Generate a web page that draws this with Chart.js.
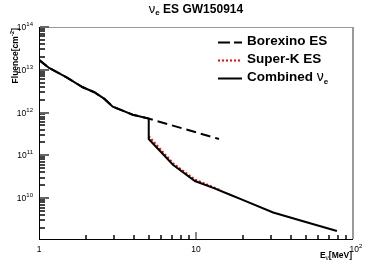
<!DOCTYPE html>
<html>
<head>
<meta charset="utf-8">
<script src="https://cdn.jsdelivr.net/npm/chart.js@4/dist/chart.umd.min.js"></script>
<style>
  body { margin: 0; background: #fff; }
  canvas { display: block; }
</style>
</head>
<body>
<canvas id="fluence_chart" width="392" height="267"></canvas>
<script>
// energies in MeV, fluences in cm^-2
var borexinoE = [1, 1.16, 1.49, 1.9, 2.25, 2.61, 2.95, 3.41, 3.95, 5.0, 14.0];
var borexinoF = [1.7e13, 1.1e13, 6.7e12, 3.9e12, 2.98e12, 2.08e12, 1.37e12, 1.11e12, 8.9e11, 7.2e11, 2.4e11];
var superkE = [5.0, 7.13, 9.84, 14.5];
var superkF = [2.8e11, 6.5e10, 2.7e10, 1.5e10];
var combinedE = [1, 1.16, 1.49, 1.9, 2.25, 2.61, 2.95, 3.41, 3.95, 5.0, 5.0, 7.13, 9.84, 13, 16.5, 20, 31, 50, 79];
var combinedF = [1.7e13, 1.1e13, 6.7e12, 3.9e12, 2.98e12, 2.08e12, 1.37e12, 1.11e12, 8.9e11, 7.2e11, 2.4e11, 6.0e10, 2.5e10, 1.7e10, 1.19e10, 8.9e9, 4.6e9, 2.75e9, 1.7e9];

var xTicks = [1, 10, 100];
var xTickLabels = [['1', ''], ['10', ''], ['10', '2']];
var yTickExps = [10, 11, 12, 13, 14];
var minorSteps = [2, 3, 4, 5, 6, 7, 8, 9];
var legendLabels = [['Borexino ES', ''], ['Super-K ES', ''], ['Combined ', '\u03bd', 'e']];

function toPoints(xs, ys) {
  var pts = [];
  for (var i = 0; i < xs.length; i++) pts.push({x: xs[i], y: ys[i]});
  return pts;
}

// draws a list of text pieces [text, font, dy] one after another
function drawPieces(ctx, pieces, x, y, align) {
  var w = 0;
  pieces.forEach(function (p) { ctx.font = p[1]; w += ctx.measureText(p[0]).width; });
  var cx = x;
  if (align == 'right') cx = x - w;
  if (align == 'center') cx = x - w / 2;
  ctx.textAlign = 'left';
  ctx.textBaseline = 'alphabetic';
  pieces.forEach(function (p) {
    ctx.font = p[1];
    ctx.fillText(p[0], cx, y + p[2]);
    cx += ctx.measureText(p[0]).width;
  });
}

var F = '"Liberation Sans", Arial, sans-serif';

var rootStyle = {
  id: 'rootStyle',
  afterDraw: function (chart) {
    var ctx = chart.ctx;
    var a = chart.chartArea;
    var xs = chart.scales.x, ys = chart.scales.y;
    var L = Math.round(a.left), R = Math.round(a.right), T = Math.round(a.top), B = Math.round(a.bottom);
    ctx.save();

    // frame
    ctx.fillStyle = '#999';
    ctx.fillRect(L, T, R - L, 1);
    ctx.fillRect(R - 1, T, 2, B - T);
    ctx.fillStyle = '#000';
    ctx.fillRect(L, T, 1, B - T + 1);
    ctx.fillRect(L, B, R - L, 1);

    // y ticks: decades longer, 2..9 shorter
    var yDecades = [9].concat(yTickExps);
    yDecades.forEach(function (e) {
      var base = Math.pow(10, e);
      var yMajor = ys.getPixelForValue(base);
      if (yMajor >= T && yMajor <= B) {
        ctx.fillStyle = '#666';
        ctx.fillRect(L + 1, Math.round(yMajor) - 1, 9, 2);
      }
      minorSteps.forEach(function (s) {
        var yMinor = ys.getPixelForValue(s * base);
        if (yMinor < T || yMinor > B) return;
        ctx.fillStyle = '#444';
        ctx.fillRect(L + 1, Math.round(yMinor) - 1, 5, 2);
      });
    });
    // x ticks
    xTicks.forEach(function (base) {
      var xMajor = xs.getPixelForValue(base);
      if (xMajor > L + 1 && xMajor < R - 1) {
        ctx.fillStyle = '#888';
        ctx.fillRect(Math.round(xMajor) - 1, B - 7, 2, 7);
      }
      minorSteps.forEach(function (s) {
        var xMinor = xs.getPixelForValue(s * base);
        if (xMinor <= L + 1 || xMinor >= R - 1) return;
        ctx.fillStyle = '#444';
        ctx.fillRect(Math.round(xMinor) - 1, B - 4, 2, 4);
      });
    });

    // tick labels
    ctx.fillStyle = '#000';
    var tf = '8.5px ' + F, sf = '6px ' + F;
    yTickExps.forEach(function (e) {
      var y = ys.getPixelForValue(Math.pow(10, e));
      drawPieces(ctx, [['10', tf, 0], [String(e), sf, -4]], 33, y + 3, 'right');
    });
    xTicks.forEach(function (t, i) {
      var x = xs.getPixelForValue(t);
      var lab = xTickLabels[i];
      if (lab[1]) drawPieces(ctx, [[lab[0], tf, 0], [lab[1], sf, -4]], x + 3, 252, 'center');
      else drawPieces(ctx, [[lab[0], tf, 0]], x, 252, 'center');
    });

    // axis titles
    var bf = 'bold 8.5px ' + F;
    drawPieces(ctx, [['E', bf, 0], ['\u03bd', '6.5px ' + F, 2], ['[MeV]', bf, 0]], R - 1, 258, 'right');
    ctx.save();
    ctx.translate(18, T + 1);
    ctx.rotate(-Math.PI / 2);
    drawPieces(ctx, [['Fluence[cm', bf, 0], ['-2', 'bold 6px ' + F, -4], [']', bf, 0]], 0, 0, 'right');
    ctx.restore();

    // title
    drawPieces(ctx, [['\u03bd', '13px ' + F, 0], ['e', 'bold 8px ' + F, 2], [' ES GW150914', 'bold 12px ' + F, 0]], 196, 13, 'center');

    // legend
    var lf = 'bold 13.5px ' + F;
    var rows = [45, 63, 80.5];
    var sets = chart.data.datasets;
    rows.forEach(function (by, i) {
      var ds = sets[i];
      var ly = Math.round(by - 3) + 0.5;
      ctx.lineWidth = 2;
      ctx.strokeStyle = ds.borderColor;
      ctx.setLineDash(i == 0 ? [12, 4] : (ds.borderDash || []));
      ctx.beginPath(); ctx.moveTo(218, ly); ctx.lineTo(242, ly); ctx.stroke();
      ctx.setLineDash([]);
      var lab = legendLabels[i];
      if (lab.length == 3) drawPieces(ctx, [[lab[0], lf, 0], [lab[1], '14px ' + F, 0], [lab[2], 'bold 8px ' + F, 3]], 247, by, 'left');
      else drawPieces(ctx, [[lab[0], lf, 0]], 247, by, 'left');
    });
    ctx.restore();
  }
};

var myChart = new Chart(document.getElementById('fluence_chart'), {
  type: 'scatter',
  data: {
    datasets: [{
      label: 'Borexino ES',
      data: toPoints(borexinoE, borexinoF),
      showLine: true,
      borderColor: '#000',
      borderWidth: 2,
      borderDash: [10, 5],
      pointRadius: 0,
      order: 3
    }, {
      label: 'Super-K ES',
      data: toPoints(superkE, superkF),
      showLine: true,
      borderColor: '#ff0000',
      borderWidth: 2,
      borderDash: [2, 2],
      pointRadius: 0,
      order: 2
    }, {
      label: 'Combined',
      data: toPoints(combinedE, combinedF),
      showLine: true,
      borderColor: '#000',
      borderWidth: 2,
      pointRadius: 0,
      order: 1
    }]
  },
  options: {
    responsive: false,
    animation: false,
    layout: { padding: { left: 39, right: 39, top: 27, bottom: 28 } },
    scales: {
      x: { type: 'logarithmic', min: 1, max: 100, display: false },
      y: { type: 'logarithmic', min: 1.1e9, max: 1e14, display: false }
    },
    plugins: {
      legend: { display: false },
      tooltip: { enabled: false }
    }
  },
  plugins: [rootStyle]
});
</script>
</body>
</html>
